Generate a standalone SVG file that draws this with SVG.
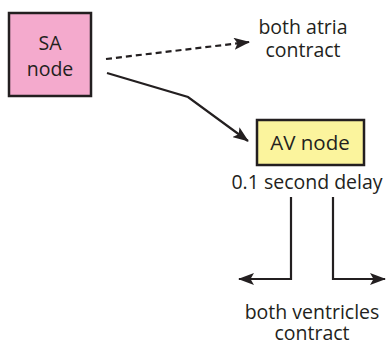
<svg xmlns="http://www.w3.org/2000/svg" width="391" height="343" viewBox="0 0 391 343">
<style>
text{font-family:"Open Sans","Noto Sans",sans-serif;fill:#231f20;text-anchor:middle}
.lbl{font-size:19.5px}
.box{stroke:#231f20;stroke-width:2.5}
.ln{fill:none;stroke:#231f20;stroke-width:2.2}
</style>
<defs>
<marker id="ah" viewBox="0 0 16 12" refX="15" refY="6" markerWidth="16" markerHeight="12" markerUnits="userSpaceOnUse" orient="auto">
<path d="M0,0 L16,6 L0,12 L3.5,6 z" fill="#231f20"/>
</marker>
</defs>
<g id="sa-node">
<rect class="box" x="9" y="13" width="82" height="83" fill="#f4aacd"/>
<text class="lbl" x="50" y="50">SA</text>
<text class="lbl" x="50" y="76">node</text>
</g>
<g id="atria">
<text class="lbl" x="303" y="34">both atria</text>
<text class="lbl" x="303" y="57">contract</text>
</g>
<g id="av-node">
<rect class="box" x="257" y="120" width="107" height="45" fill="#fbf49d"/>
<text x="310" y="150" font-size="20.5">AV node</text>
<text class="lbl" x="307" y="189">0.1 second delay</text>
</g>
<g id="ventricles">
<text class="lbl" x="312" y="319">both ventricles</text>
<text class="lbl" x="312" y="340">contract</text>
</g>
<g id="connectors">
<path class="ln" d="M106,59 L249,42" stroke-dasharray="6,4" marker-end="url(#ah)"/>
<path class="ln" d="M107,73 L188,97 L248,141" marker-end="url(#ah)"/>
<path class="ln" d="M291,197 L291,279 L239,279" marker-end="url(#ah)"/>
<path class="ln" d="M333,197 L333,279 L385,279" marker-end="url(#ah)"/>
</g>
</svg>
